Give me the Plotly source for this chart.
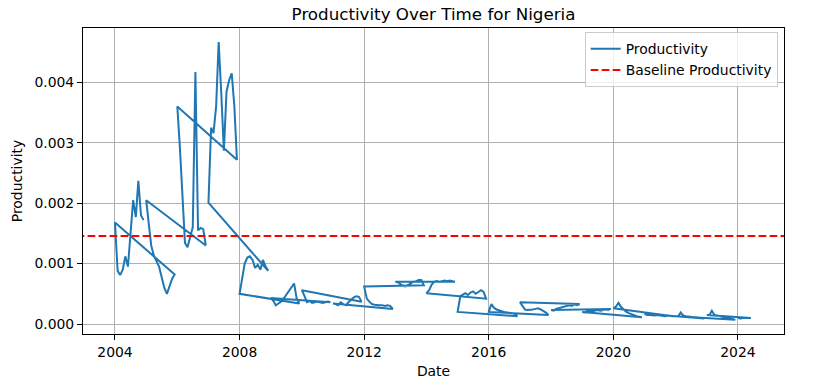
import plotly.graph_objects as go

# ---- data (monthly values per year block) ----
v2004 = [0.00168, 0.00088, 0.00081, 0.00090, 0.00112, 0.00095, 0.00150, 0.00205, 0.00177, 0.00237, 0.00180, 0.00172]
v2005 = [0.00205, 0.00165, 0.00130, 0.00113, 0.00103, 0.00095, 0.00078, 0.00060, 0.00050, 0.00063, 0.00075, 0.00082]
v2006 = [0.00360, 0.00290, 0.00210, 0.00134, 0.00127, 0.00142, 0.00160, 0.00417, 0.00155, 0.00159, 0.00157, 0.00130]
v2007 = [0.00201, 0.00325, 0.00316, 0.00360, 0.00467, 0.00380, 0.00287, 0.00385, 0.00404, 0.00415, 0.00360, 0.00272]
v2008 = [0.00050, 0.00080, 0.00100, 0.00110, 0.00112, 0.00106, 0.00093, 0.00098, 0.00090, 0.00106, 0.00095, 0.00088]
v2009 = [0.00043, 0.00038, 0.00031, 0.00034, 0.00037, 0.00042, 0.00048, 0.00053, 0.00060, 0.00067, 0.00042, 0.00034]
v2010 = [0.00056, 0.00046, 0.00036, 0.00038, 0.00035, 0.00036, 0.00037, 0.00036, 0.00035, 0.00036, 0.00037, 0.00036]
v2011 = [0.00034, 0.00033, 0.00031, 0.00036, 0.00033, 0.00031, 0.00036, 0.00040, 0.00044, 0.00046, 0.00045, 0.00037]
v2012 = [0.00062, 0.00042, 0.00037, 0.00033, 0.00032, 0.00031, 0.00031, 0.00031, 0.00030, 0.00031, 0.00030, 0.00025]
v2013 = [0.00070, 0.00069, 0.00066, 0.00063, 0.00062, 0.00065, 0.00067, 0.00070, 0.00071, 0.00073, 0.00073, 0.00064]
v2014 = [0.00051, 0.00056, 0.00065, 0.00070, 0.00071, 0.00070, 0.00071, 0.00072, 0.00071, 0.00072, 0.00071, 0.00070]
v2015 = [0.00020, 0.00046, 0.00049, 0.00051, 0.00048, 0.00052, 0.00054, 0.00050, 0.00053, 0.00056, 0.00053, 0.00042]
v2016 = [0.00020, 0.00033, 0.00027, 0.00024, 0.00022, 0.00021, 0.00020, 0.00019, 0.00018, 0.00018, 0.00017, 0.00013]
v2017 = [0.00036, 0.00029, 0.00024, 0.00023, 0.00023, 0.00024, 0.00025, 0.00026, 0.00024, 0.00022, 0.00019, 0.00015]
v2018 = [0.00023, 0.00022, 0.00025, 0.00026, 0.00027, 0.00028, 0.00029, 0.00031, 0.00030, 0.00033, 0.00031, 0.00033]
v2019 = [0.00020, 0.00019, 0.00021, 0.00022, 0.00021, 0.00022, 0.00023, 0.00022, 0.00023, 0.00024, 0.00023, 0.00025]
v2020 = [0.00026, 0.00029, 0.00035, 0.00028, 0.00024, 0.00020, 0.00018, 0.00016, 0.00015, 0.00013, 0.00012, 0.00011]
v2021 = [0.00017, 0.00015, 0.00015, 0.00014, 0.00014, 0.00015, 0.00014, 0.00014, 0.00013, 0.00014, 0.00013, 0.00013]
v2022 = [0.00013, 0.00013, 0.00019, 0.00014, 0.00013, 0.00012, 0.00012, 0.00011, 0.00011, 0.00010, 0.00010, 0.00009]
v2023 = [0.00015, 0.00015, 0.00022, 0.00015, 0.00014, 0.00013, 0.00012, 0.00011, 0.00010, 0.00009, 0.00008, 0.00007]
v2024 = [0.00010, 0.00009, 0.00010, 0.00010, 0.00009, 0.00010]

# order in which the rows appear in the data (latest year block first)
block_years = [2024, 2023, 2022, 2021, 2020, 2019, 2018, 2017, 2016, 2015, 2014,
               2013, 2012, 2011, 2010, 2009, 2008, 2007, 2006, 2005, 2004]
blocks = {2004: v2004, 2005: v2005, 2006: v2006, 2007: v2007, 2008: v2008, 2009: v2009,
          2010: v2010, 2011: v2011, 2012: v2012, 2013: v2013, 2014: v2014, 2015: v2015,
          2016: v2016, 2017: v2017, 2018: v2018, 2019: v2019, 2020: v2020, 2021: v2021,
          2022: v2022, 2023: v2023, 2024: v2024}

baseline = 0.001455

x_tick_years = [2004, 2008, 2012, 2016, 2020, 2024]
y_ticks = [0.000, 0.001, 0.002, 0.003, 0.004]
y_tick_labels = ["0.000", "0.001", "0.002", "0.003", "0.004"]

dates, values = [], []
for yr in block_years:
    for m, v in enumerate(blocks[yr]):
        dates.append(f"{yr}-{m + 1:02d}-01")
        values.append(v)

FONT = "DejaVu Sans"
FS = 13.9
fig = go.Figure()
fig.add_trace(go.Scatter(x=dates, y=values, mode="lines", name="Productivity",
                         line=dict(color="#1f77b4", width=2)))
fig.add_trace(go.Scatter(x=["2002-06-01", "2026-01-01"], y=[baseline, baseline], mode="lines",
                         name="Baseline Productivity",
                         line=dict(color="#ff0000", width=2, dash="7.7px,3.3px")))

axis_common = dict(showline=True, mirror=True, linecolor="black", linewidth=1,
                   ticks="outside", ticklen=5, tickwidth=1, tickcolor="black",
                   showgrid=True, gridcolor="#b0b0b0", gridwidth=1, zeroline=False,
                   automargin=False,
                   tickfont=dict(family=FONT, size=FS, color="black"))

fig.update_layout(
    width=831, height=389,
    margin=dict(l=83, r=47, t=28, b=55, autoexpand=False),
    paper_bgcolor="white", plot_bgcolor="white",
    font=dict(family=FONT, size=FS, color="black"),
    title=dict(text="Productivity Over Time for Nigeria", x=0.5, xref="paper", xanchor="center",
               y=1 - 20 / 389, yref="container", yanchor="bottom",
               font=dict(family=FONT, size=16.7, color="black")),
    xaxis=dict(type="date", range=["2002-12-22", "2025-06-24"],
               tickvals=[f"{y}-01-01" for y in x_tick_years],
               ticktext=[str(y) for y in x_tick_years],
               title=dict(text="Date", font=dict(family=FONT, size=FS), standoff=7),
               **axis_common),
    yaxis=dict(range=[-0.0001656, 0.0049007], tickvals=y_ticks, ticktext=y_tick_labels,
               title=dict(text="Productivity", font=dict(family=FONT, size=FS), standoff=8),
               **axis_common),
    legend=dict(x=0.991, y=0.986, xanchor="right", yanchor="top",
                bgcolor="rgba(255,255,255,0.8)", bordercolor="#cccccc", borderwidth=1,
                tracegroupgap=0, itemwidth=30,
                font=dict(family=FONT, size=FS, color="black")),
    showlegend=True,
)

# place the figure at the window's top-left corner (no default page margin)
fig.write_html("out.html", config={"displayModeBar": False},
               post_script="document.body.style.margin='0px';")
